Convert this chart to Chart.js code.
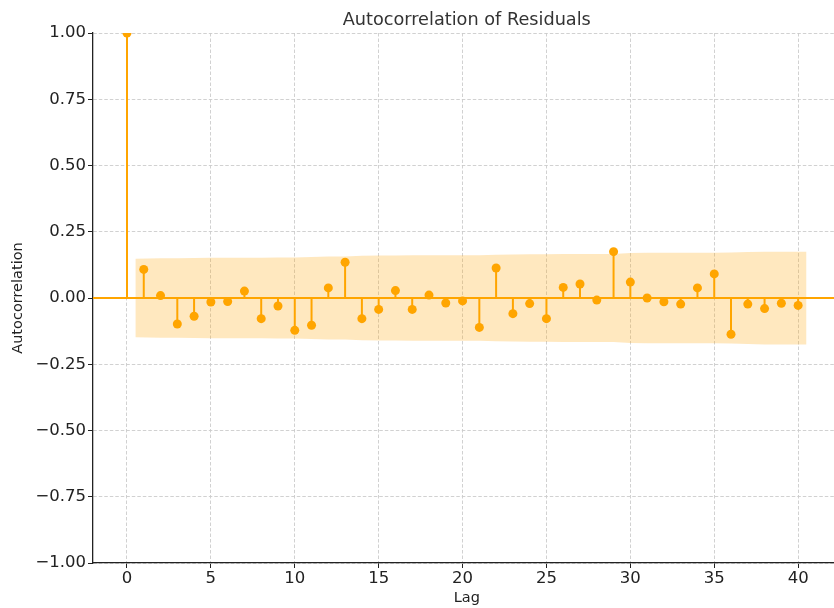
<!DOCTYPE html>
<html>
<head>
<meta charset="utf-8">
<style>
html,body{margin:0;padding:0;overflow:hidden;background:#fff;width:834px;height:608px}
#c{position:absolute;left:0;top:0;width:845px;height:608px}
</style>
<script src="https://cdn.jsdelivr.net/npm/chart.js@4/dist/chart.umd.min.js"></script>
</head>
<body>
<canvas id="c" width="845" height="608"></canvas>
<script>
// ---- data ----
const chartTitle = "Autocorrelation of Residuals";
const xTitle = "Lag";
const yTitle = "Autocorrelation";
const lags = [0,1,2,3,4,5,6,7,8,9,10,11,12,13,14,15,16,17,18,19,20,
              21,22,23,24,25,26,27,28,29,30,31,32,33,34,35,36,37,38,39,40];
const acfValues = [1.000, 0.108, 0.009, -0.098, -0.069, -0.015, -0.013, 0.026, -0.078, -0.030, -0.122,
                   -0.103, 0.038, 0.135, -0.078, -0.043, 0.028, -0.043, 0.011, -0.019, -0.011,
                   -0.111, 0.113, -0.059, -0.021, -0.078, 0.040, 0.053, -0.008, 0.175, 0.060,
                   0.000, -0.014, -0.023, 0.038, 0.091, -0.137, -0.023, -0.040, -0.020, -0.028];
// confidence band half-width for lags 1..40
const confBand = [0.148, 0.150, 0.150, 0.151, 0.152, 0.152, 0.152, 0.152, 0.153, 0.153,
                  0.155, 0.157, 0.157, 0.159, 0.160, 0.160, 0.161, 0.161, 0.161, 0.161,
                  0.161, 0.163, 0.164, 0.165, 0.165, 0.166, 0.166, 0.166, 0.166, 0.170,
                  0.171, 0.171, 0.171, 0.171, 0.171, 0.172, 0.174, 0.175, 0.175, 0.175];
const xTickValues = [0,5,10,15,20,25,30,35,40];
const yTickValues = [-1,-0.75,-0.5,-0.25,0,0.25,0.5,0.75,1];
const xMin = -2.025, xMax = 42.525;

// ---- styles ----
const ORANGE = '#FFA500';
const BAND = 'rgba(255,165,0,0.25)';
const GRID = '#cccccc';
const AXIS = '#222222';
const FONT = '"DejaVu Sans", sans-serif';

// ---- build datasets from the arrays ----
const bandLags = lags.slice(1).map((l, i, arr) => i === 0 ? l - 0.5 : (i === arr.length - 1 ? l + 0.5 : l));
const bandUpper = bandLags.map((x, i) => ({x, y: confBand[i]}));
const bandLower = bandLags.map((x, i) => ({x, y: -confBand[i]}));
const stems = [];
lags.forEach((l, i) => { stems.push({x: l, y: 0}, {x: l, y: acfValues[i]}, {x: l, y: null}); });
const markers = lags.map((l, i) => ({x: l, y: acfValues[i]}));
const zeroLine = [{x: xMin, y: 0}, {x: xMax, y: 0}];

const titlePlugin = {
  id: 'axesTitle',
  afterDraw(chart) {
    const {ctx, chartArea: a} = chart;
    ctx.save();
    ctx.font = '17.7px ' + FONT;
    ctx.fillStyle = '#333333';
    ctx.textAlign = 'center';
    ctx.textBaseline = 'alphabetic';
    ctx.fillText(chartTitle, (a.left + a.right) / 2, 25);
    ctx.restore();
  }
};

const fmt = v => (v < 0 ? '\u2212' : '') + Math.abs(v).toFixed(2);

const gridOpts = {color: GRID, lineWidth: 0.9, drawTicks: true, tickLength: 5,
                  tickColor: AXIS, tickWidth: 1, tickBorderDash: []};
const borderOpts = {display: true, color: AXIS, width: 1.3, dash: [3.5, 2]};

new Chart(document.getElementById('c'), {
  type: 'line',
  data: {
    datasets: [
      {data: bandUpper, borderWidth: 0, pointRadius: 0, backgroundColor: BAND, fill: '+1', order: 10, tension: 0},
      {data: bandLower, borderWidth: 0, pointRadius: 0, backgroundColor: BAND, fill: false, order: 11, tension: 0},
      {data: zeroLine, borderColor: ORANGE, borderWidth: 2, pointRadius: 0, fill: false, order: 4},
      {data: stems, borderColor: ORANGE, borderWidth: 2, pointRadius: 0, fill: false, spanGaps: false, order: 3, clip: 0},
      {data: markers, showLine: false, pointRadius: 4.5, pointBackgroundColor: ORANGE, pointBorderColor: ORANGE, pointBorderWidth: 0, order: 1, clip: 0}
    ]
  },
  options: {
    responsive: false,
    maintainAspectRatio: false,
    animation: false,
    events: [],
    layout: {padding: {top: 33, right: 0, bottom: 0, left: 0}},
    plugins: {legend: {display: false}, tooltip: {enabled: false}, title: {display: false}},
    scales: {
      x: {
        type: 'linear', min: xMin, max: xMax, offset: false,
        afterFit: s => { s.height = 45; },
        afterBuildTicks: s => { s.ticks = xTickValues.map(v => ({value: v})); },
        ticks: {includeBounds: false, autoSkip: false, maxRotation: 0, padding: 1, color: AXIS,
                font: {family: FONT, size: 16.5}, callback: v => String(v)},
        grid: gridOpts,
        border: borderOpts,
        title: {display: true, text: xTitle, color: AXIS, font: {family: FONT, size: 14.5}, padding: {top: 0, bottom: 1}}
      },
      y: {
        type: 'linear', min: -1, max: 1,
        afterFit: s => { s.width = 93; },
        afterBuildTicks: s => { s.ticks = yTickValues.map(v => ({value: v})); },
        ticks: {includeBounds: false, autoSkip: false, padding: 2, color: AXIS,
                font: {family: FONT, size: 16.5}, callback: v => fmt(v)},
        grid: gridOpts,
        border: borderOpts,
        title: {display: true, text: yTitle, color: AXIS, font: {family: FONT, size: 14.5}, padding: {top: 10, bottom: 0}}
      }
    }
  },
  plugins: [titlePlugin]
});
</script>
</body>
</html>
